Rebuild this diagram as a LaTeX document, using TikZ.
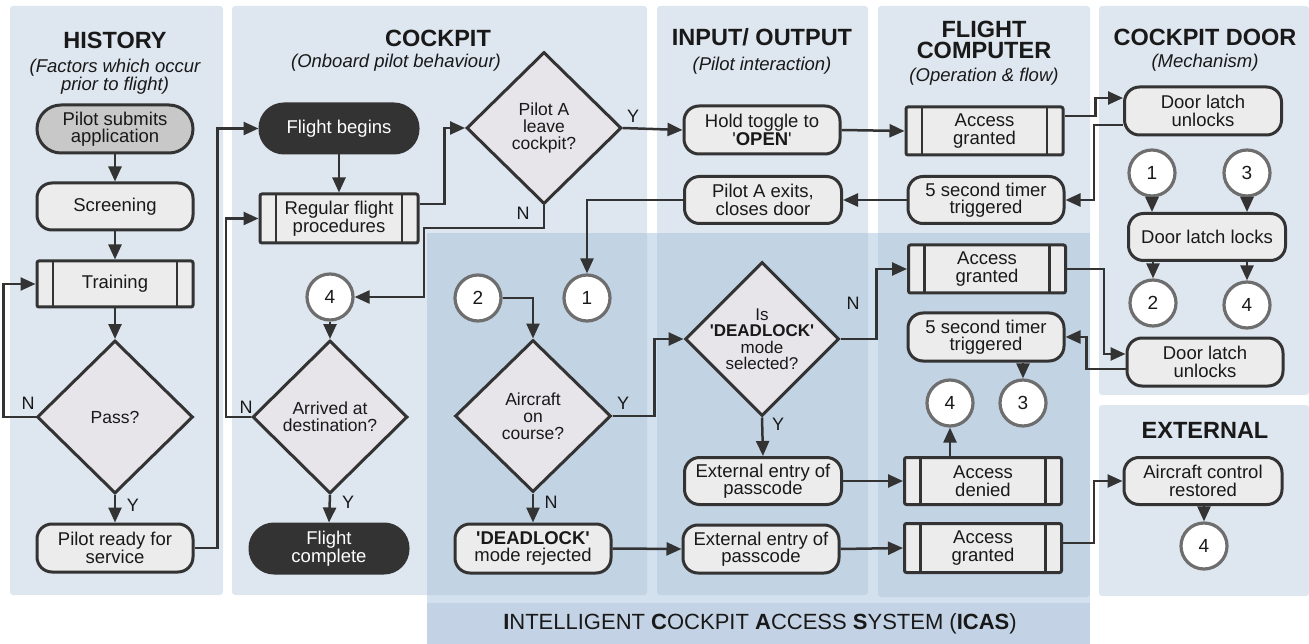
\documentclass[tikz,border=0pt]{standalone}
\usepackage{fontspec}
\setmainfont{Liberation Sans}
\usetikzlibrary{arrows.meta,shapes.geometric}
\definecolor{panel}{RGB}{222,230,239}
\definecolor{icas}{RGB}{167,193,219}
\definecolor{icasbar}{RGB}{195,211,229}
\definecolor{ink}{RGB}{51,51,51}
\definecolor{boxfill}{RGB}{236,236,236}
\definecolor{decfill}{RGB}{231,229,233}
\definecolor{startfill}{RGB}{200,200,200}
\definecolor{ringgray}{RGB}{110,110,110}
\newcommand{\sq}{\textquotesingle}
\begin{document}
\begin{tikzpicture}[x=1pt,y=-1pt,
  every node/.style={text=black!90, inner sep=0pt, font=\fontsize{18.5}{17.5}\selectfont},
  panelbox/.style={fill=panel, rounded corners=3pt},
  base/.style={draw=ink, line width=3pt, align=center, minimum width=156pt},
  procbox/.style={base, fill=boxfill, rounded corners=15pt, minimum height=48pt},
  termgray/.style={base, fill=startfill, rounded corners=24pt, minimum height=48pt},
  termdark/.style={base, fill=ink, text=white, rounded corners=24pt, minimum width=158pt, minimum height=49pt},
  predef/.style={base, fill=boxfill, rounded corners=2pt, minimum width=157pt, minimum height=48pt,
    path picture={\draw[ink, line width=2.8pt]
      ([xshift=16pt]path picture bounding box.north west) -- ([xshift=16pt]path picture bounding box.south west)
      ([xshift=-16pt]path picture bounding box.north east) -- ([xshift=-16pt]path picture bounding box.south east);}},
  decision/.style={diamond, draw=ink, fill=decfill, line width=3pt, minimum width=156pt, minimum height=153pt, inner sep=0pt},
  dtext/.style={align=center, font=\fontsize{17.5}{16.8}\selectfont},
  ring/.style={circle, draw=ringgray, fill=white, line width=3.2pt, minimum size=46pt, font=\fontsize{19}{19}\selectfont},
  flow/.style={draw=ink, line width=2.5pt, -{Triangle[length=15pt,width=13pt]}},
  yn/.style={font=\fontsize{18}{18}\selectfont},
  title/.style={align=center, font=\bfseries\fontsize{23.5}{21}\selectfont},
  subtitle/.style={align=center, font=\itshape\fontsize{18.5}{16.5}\selectfont}
]
\useasboundingbox (0,0) rectangle (1309,644);

% column panels
\fill[panelbox] (10,6) rectangle (223,595);
\fill[panelbox] (232,6) rectangle (647,595);
\fill[panelbox] (657,6) rectangle (868,595);
\fill[panelbox] (878,6) rectangle (1090,597);
\fill[panelbox] (1099,6) rectangle (1309,395);
\fill[panelbox] (1099,405) rectangle (1309,596);
% ICAS zone and its caption bar
\fill[icas, opacity=0.5] (427,233) rectangle (1090,603);
\fill[icasbar] (427,603) rectangle (1090,644);
\node[font=\fontsize{22}{22}\selectfont] (icaslabel) at (760,624)
  {\textbf{I}NTELLIGENT \textbf{C}OCKPIT \textbf{A}CCESS \textbf{S}YSTEM (\textbf{ICAS})};

% column headings
\node[title] (tHist) at (115,40) {HISTORY};
\node[subtitle] (sHist) at (115,77) {(Factors which occur\\prior to flight)};
\node[title] (tCock) at (438,38) {COCKPIT};
\node[subtitle] (sCock) at (396,63) {(Onboard pilot behaviour)};
\node[title] (tIO) at (762,37) {INPUT/ OUTPUT};
\node[subtitle] (sIO) at (762,66) {(Pilot interaction)};
\node[title] (tFC) at (984,40) {FLIGHT\\COMPUTER};
\node[subtitle] (sFC) at (984,77) {(Operation \& flow)};
\node[title] (tDoor) at (1205,37) {COCKPIT DOOR};
\node[subtitle] (sDoor) at (1205,63) {(Mechanism)};
\node[title] (tExt) at (1205,430) {EXTERNAL};

% history
\node[termgray] (submit) at (115,129) {Pilot submits\\application};
\node[procbox, minimum height=47pt] (screen) at (115,206.5) {Screening};
\node[predef, minimum width=156pt, minimum height=46pt] (train) at (115,284) {Training};
\node[decision, label={[dtext]center:Pass?}] (pass) at (115,417) {};
\node[procbox] (ready) at (115,548) {Pilot ready for\\service};

% cockpit
\node[termdark] (fbegin) at (339,128.5) {Flight begins};
\node[predef, minimum width=158pt, minimum height=49pt] (regular) at (339,218.5) {Regular flight\\procedures};
\node[ring] (c4a) at (330,297) {4};
\node[decision, minimum width=155pt, label={[dtext]center:Arrived at\\destination?}] (arrived) at (330,417) {};
\node[termdark] (fcomplete) at (329,548.5) {Flight\\complete};
\node[decision, minimum width=155pt, minimum height=152pt, label={[dtext]center:Pilot A\\leave\\cockpit?}] (pilotA) at (544,128) {};
\node[ring] (c2a) at (478,298) {2};
\node[ring] (c1a) at (587,298) {1};
\node[decision, minimum height=152pt, label={[dtext]center:Aircraft\\on\\course?}] (aircraft) at (533,416) {};
\node[procbox, minimum height=49pt] (rejected) at (533,548.5) {\textbf{\sq DEADLOCK\sq}\\mode rejected};

% input / output
\node[procbox] (hold) at (762,130) {Hold toggle to\\\sq\textbf{OPEN}\sq};
\node[procbox, minimum width=157pt, minimum height=47pt] (exits) at (763,200) {Pilot A exits,\\closes door};
\node[decision, minimum width=154pt, minimum height=154pt,
  label={[dtext, font=\fontsize{17}{16.5}\selectfont]center:Is\\\textbf{\sq DEADLOCK\sq}\\mode\\selected?}] (deadlock) at (762,339) {};
\node[procbox, minimum width=157pt, minimum height=47pt] (ext1) at (763,481) {External entry of\\passcode};
\node[procbox] (ext2) at (761,549) {External entry of\\passcode};

% flight computer
\node[predef] (ag1) at (984.5,131) {Access\\granted};
\node[procbox, minimum height=47pt] (timer1) at (986,200) {5 second timer\\triggered};
\node[predef] (ag2) at (987,269) {Access\\granted};
\node[procbox] (timer2) at (986,337) {5 second timer\\triggered};
\node[ring] (c4b) at (950,403) {4};
\node[ring] (c3a) at (1023,403) {3};
\node[predef, minimum height=47pt] (denied) at (983,481) {Access\\denied};
\node[predef, minimum height=49pt] (ag3) at (983,548) {Access\\granted};

% cockpit door
\node[procbox, minimum width=157pt] (unlock1) at (1203,111) {Door latch\\unlocks};
\node[ring] (c1b) at (1152,173) {1};
\node[ring] (c3b) at (1247,173) {3};
\node[procbox, minimum width=157pt, minimum height=47pt] (locks) at (1207,237) {Door latch locks};
\node[ring] (c2b) at (1153,303) {2};
\node[ring] (c4c) at (1247,305) {4};
\node[procbox] (unlock2) at (1205,362) {Door latch\\unlocks};

% external
\node[procbox, minimum width=158pt, minimum height=47pt] (restored) at (1203,481) {Aircraft control\\restored};
\node[ring] (c4d) at (1204,546) {4};

% decision branch letters
\node[yn] (passN) at (28,403) {N};
\node[yn] (passY) at (133,505) {Y};
\node[yn] (arrN) at (246,407) {N};
\node[yn] (arrY) at (348,502) {Y};
\node[yn] (pilY) at (633,116) {Y};
\node[yn] (pilN) at (523,213) {N};
\node[yn] (airY) at (623,403) {Y};
\node[yn] (airN) at (551,502) {N};
\node[yn] (deadN) at (853,303) {N};
\node[yn] (deadY) at (778,424) {Y};

% history flow
\draw[flow] (submit) -- (screen);
\draw[flow] (screen) -- (train);
\draw[flow] (train) -- (pass.north);
\draw[flow] (pass.south) -- (ready.north);
\draw[flow] (pass.west) -- ++(-32,0) |- (train.west);
\draw[flow] (ready.east) -- ++(23,0) |- (fbegin.west);

% cockpit flow
\draw[flow] (fbegin) -- (regular);
\draw[flow] ([yshift=14.5pt]regular.east) -- ++(25,0) |- (pilotA.west);
\draw[flow] (pilotA.south) |- (424,228) |- (c4a.east);
\draw[flow] (c4a) -- (arrived.north);
\draw[flow] (arrived.west) -- ++(-25,0) |- (regular.west);
\draw[flow] (arrived.south) -- (fcomplete.north);
\draw[flow] (pilotA.east) -- (hold.west);
\draw[flow] (exits.west) -| (c1a.north);
\draw[flow] (c2a.east) -| (aircraft.north);
\draw[flow] (aircraft.east) -- ++(42,0) |- (deadlock.west);
\draw[flow] (aircraft.south) -- (rejected.north);
\draw[flow] (rejected.east) -- (ext2.west);

% input / output flow
\draw[flow] (hold.east) -- (ag1.west);
\draw[flow] (deadlock.east) -- ++(36,0) |- (ag2.west);
\draw[flow] (deadlock.south) -- (ext1.north);
\draw[flow] (ext1.east) -- (denied.west);
\draw[flow] (ext2.east) -- (ag3.west);

% flight computer and door flow
\draw[flow] ([yshift=15pt]ag1.east) -- ++(31,0) |- ([yshift=13pt]unlock1.west);
\draw[flow] ([yshift=-14pt]unlock1.west) -- ++(-29,0) |- (timer1.east);
\draw[flow] (timer1.west) -- (exits.east);
\draw[flow] (ag2.east) -- ++(37,0) |- ([yshift=8pt]unlock2.west);
\draw[flow] ([yshift=-7pt]unlock2.west) -- ++(-39,0) |- (timer2.east);
\draw[flow] (timer2.south -| c3a.north) -- (c3a.north);
\draw[flow] (denied.north -| c4b.south) -- (c4b.south);
\draw[flow] ([yshift=5pt]ag3.east) -- ++(31,0) |- (restored.west);
\draw[flow] (restored.south -| c4d.north) -- (c4d.north);
\draw[flow] (c1b.south) -- (c1b.south |- locks.north);
\draw[flow] (c3b.south) -- (c3b.south |- locks.north);
\draw[flow] (locks.south -| c2b.north) -- (c2b.north);
\draw[flow] (locks.south -| c4c.north) -- (c4c.north);
\end{tikzpicture}
\end{document}
